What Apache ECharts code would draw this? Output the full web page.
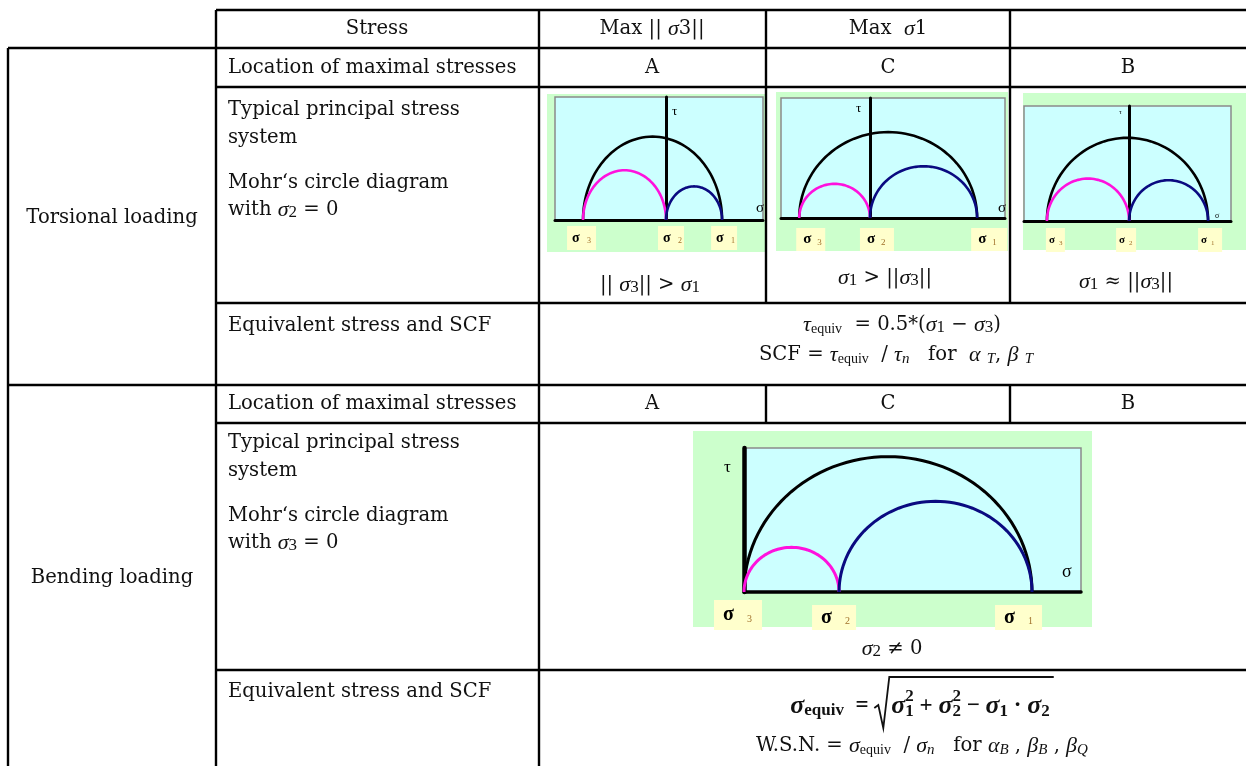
<!DOCTYPE html>
<html><head><meta charset="utf-8">
<script src="https://cdn.jsdelivr.net/npm/echarts@6/dist/echarts.min.js"></script>
<style>html,body{margin:0;padding:0;background:#fff}#c{width:1246px;height:766px}</style>
</head><body><div id="c"></div>
<script>
// ---------------- data ----------------
const loadCases = ['Torsional loading', 'Bending loading'];
const stressColumns = ['Stress', 'Max || σ3||', 'Max  σ1', ''];
const locations = ['A', 'C', 'B'];
const rowLabels = ['Location of maximal stresses', 'Typical principal stress', 'system', 'Mohr‘s circle diagram', 'Equivalent stress and SCF'];
const principalIdx = ['3', '2', '1'];
// principal stresses [σ3, σ2, σ1], scaled so that σ1 = 100
const sigmaTorsionA = [-148, 0, 100];
const sigmaTorsionC = [-66, 0, 100];
const sigmaTorsionB = [-104, 0, 100];
const sigmaBending = [0, 33, 100];
// circle pairs: [from index, to index, colour index]
const circlePairs = [[0, 2, 2], [0, 1, 0], [1, 2, 1]];
const circleColors = ['#ff11dd', '#0a0a80', '#000000'];

// ---------------- layout ----------------
const panels = [
  { sig: sigmaTorsionA, grid: {left: 555, top: 97, width: 208, height: 123}, x: [-198, 173], yMax: 183,
    green: [547, 94, 219, 158], lw: 2.6, axW: 3, axH: 3,
    L: {dx: [-16, -8, -11], w: [29, 26, 26], h: 24, top: 6, gx: 5, gs: 14, dd: 20, ds: 8, ddy: 3},
    tau: [672, 112, 13], sig_: [756, 208, 15] },
  { sig: sigmaTorsionC, grid: {left: 781, top: 98, width: 224, height: 120}, x: [-83, 126], yMax: 116,
    green: [776, 92, 232, 159], lw: 2.6, axW: 3, axH: 3,
    L: {dx: [-3, -10, -6], w: [29, 34, 36], h: 23, top: 10, gx: 7, gs: 15, dd: 21, ds: 9, ddy: 3},
    tau: [856, 109, 13], sig_: [998, 208, 15] },
  { sig: sigmaTorsionB, grid: {left: 1024, top: 106, width: 207, height: 115}, x: [-133, 129], yMax: 141,
    green: [1023, 93, 223, 157], lw: 2.6, axW: 3, axH: 3,
    L: {dx: [-1, -13, -10], w: [19, 20, 24], h: 24, top: 7, gx: 3, gs: 11, dd: 13, ds: 7, ddy: 3},
    tau: [1119, 112, 7], sig_: [1215, 216, 8] },
  { sig: sigmaBending, grid: {left: 744, top: 448, width: 337, height: 144}, x: [0, 117], yMax: 53.2,
    green: [693, 431, 399, 196], lw: 3, axW: 4.5, axH: 3.5,
    L: {dx: [-30, -27, -37], w: [48, 44, 47], h: [30, 25, 25], top: [8, 13, 13], gx: 9, gs: 20, dd: 33, ds: 10, ddy: 4},
    tau: [724, 468, 17], sig_: [1062, 572, 18] }
];

const FONTS = {
  R:  {fontFamily: 'DejaVu Serif', fontSize: 19.6, fontStyle: 'normal', fontWeight: 'normal'},
  M:  {fontFamily: 'Liberation Serif', fontSize: 22, fontStyle: 'italic', fontWeight: 'normal'},
  D:  {fontFamily: 'Liberation Serif', fontSize: 17, fontStyle: 'normal', fontWeight: 'normal'},
  E:  {fontFamily: 'Liberation Serif', fontSize: 14, fontStyle: 'normal', fontWeight: 'normal'},
  I:  {fontFamily: 'Liberation Serif', fontSize: 15, fontStyle: 'italic', fontWeight: 'normal'},
  B:  {fontFamily: 'Liberation Serif', fontSize: 26, fontStyle: 'italic', fontWeight: 'bold'},
  BE: {fontFamily: 'Liberation Serif', fontSize: 17, fontStyle: 'normal', fontWeight: 'bold'},
  BR: {fontFamily: 'Liberation Serif', fontSize: 23, fontStyle: 'normal', fontWeight: 'bold'},
  BD: {fontFamily: 'Liberation Serif', fontSize: 17, fontStyle: 'normal', fontWeight: 'bold'}
};
const TXT = '#111';
const mctx = document.createElement('canvas').getContext('2d');
function cssFont(f) { return f.fontStyle + ' ' + f.fontWeight + ' ' + f.fontSize + 'px "' + f.fontFamily + '"'; }
function measure(t, f) { mctx.font = cssFont(f); return mctx.measureText(t).width; }
function textEl(x, y, t, fk, align, extra) {
  return Object.assign({type: 'text', x: x, y: y, z: 50,
    style: Object.assign({text: t, fill: TXT, align: align || 'left', textAlign: align || 'left',
      verticalAlign: 'middle', textVerticalAlign: 'middle'}, FONTS[fk])}, extra || {});
}
function layoutParts(parts) {
  const pos = []; let cur = 0;
  parts.forEach(p => { pos.push(cur); if (!p.stack) cur += measure(p.t, FONTS[p.f]); });
  return {pos: pos, width: cur};
}
function inline(x, y, parts, align) {
  const L = layoutParts(parts);
  const x0 = align === 'center' ? x - L.width / 2 : x;
  return parts.map((p, i) => textEl(x0 + L.pos[i], y + (p.dy || 0), p.t, p.f, 'left'));
}

const els = [];
// ---------------- table lines ----------------
const hLines = [[10, 216], [48, 8], [87, 216], [303, 216], [385, 8], [423, 216], [670, 216]];
hLines.forEach(h => els.push({type: 'line', z: 40, shape: {x1: h[1], y1: h[0], x2: 1246, y2: h[0]}, style: {stroke: '#000', lineWidth: 2.4}}));
const vLines = [[8, 48, 766], [216, 10, 766], [539, 10, 766], [766, 10, 303], [766, 385, 423], [1010, 10, 303], [1010, 385, 423]];
vLines.forEach(v => els.push({type: 'line', z: 40, shape: {x1: v[0], y1: v[1], x2: v[0], y2: v[2]}, style: {stroke: '#000', lineWidth: 2.4}}));

// ---------------- table text ----------------
els.push(textEl(377, 29, stressColumns[0], 'R', 'center'));
els.push(...inline(652, 29, [{t: 'Max || ', f: 'R'}, {t: 'σ', f: 'M'}, {t: '3||', f: 'R'}], 'center'));
els.push(...inline(888, 29, [{t: 'Max  ', f: 'R'}, {t: 'σ', f: 'M'}, {t: '1', f: 'R'}], 'center'));
const colCenters = [652, 888, 1128];
[68, 404].forEach(y => {
  els.push(textEl(228, y, rowLabels[0], 'R'));
  locations.forEach((l, i) => els.push(textEl(colCenters[i], y, l, 'R', 'center')));
});
els.push(textEl(112, 218, loadCases[0], 'R', 'center'));
els.push(textEl(112, 578, loadCases[1], 'R', 'center'));
[[110, 2], [443, 3]].forEach(([y, k]) => {
  els.push(textEl(228, y, rowLabels[1], 'R'));
  els.push(textEl(228, y + 28, rowLabels[2], 'R'));
  els.push(textEl(228, y + 73, rowLabels[3], 'R'));
  els.push(...inline(228, y + 100, [{t: 'with ', f: 'R'}, {t: 'σ', f: 'M'}, {t: String(k), f: 'D', dy: 3}, {t: ' = 0', f: 'R'}]));
});
els.push(textEl(228, 326, rowLabels[4], 'R'));
els.push(textEl(228, 692, rowLabels[4], 'R'));

// captions
els.push(...inline(650, 285, [{t: '|| ', f: 'R'}, {t: 'σ', f: 'M'}, {t: '3', f: 'D', dy: 3}, {t: '|| > ', f: 'R'}, {t: 'σ', f: 'M'}, {t: '1', f: 'D', dy: 3}], 'center'));
els.push(...inline(885, 278, [{t: 'σ', f: 'M'}, {t: '1', f: 'D', dy: 3}, {t: ' > ||', f: 'R'}, {t: 'σ', f: 'M'}, {t: '3', f: 'D', dy: 3}, {t: '||', f: 'R'}], 'center'));
els.push(...inline(1126, 282, [{t: 'σ', f: 'M'}, {t: '1', f: 'D', dy: 3}, {t: ' ≈ ||', f: 'R'}, {t: 'σ', f: 'M'}, {t: '3', f: 'D', dy: 3}, {t: '||', f: 'R'}], 'center'));
els.push(...inline(892, 649, [{t: 'σ', f: 'M'}, {t: '2', f: 'D', dy: 3}, {t: ' ≠ 0', f: 'R'}], 'center'));

// torsion formulas
els.push(...inline(902, 325, [{t: 'τ', f: 'M'}, {t: 'equiv', f: 'E', dy: 4}, {t: '  = 0.5*(', f: 'R'}, {t: 'σ', f: 'M'}, {t: '1', f: 'D', dy: 3}, {t: ' − ', f: 'R'}, {t: 'σ', f: 'M'}, {t: '3', f: 'D', dy: 3}, {t: ')', f: 'R'}], 'center'));
els.push(...inline(896, 355, [{t: 'SCF = ', f: 'R'}, {t: 'τ', f: 'M'}, {t: 'equiv', f: 'E', dy: 4}, {t: '  / ', f: 'R'}, {t: 'τ', f: 'M'}, {t: 'n', f: 'I', dy: 4}, {t: '   for  ', f: 'R'}, {t: 'α', f: 'M'}, {t: ' ', f: 'R'}, {t: 'T', f: 'I', dy: 4}, {t: ', ', f: 'R'}, {t: 'β', f: 'M'}, {t: ' ', f: 'R'}, {t: 'T', f: 'I', dy: 4}], 'center'));

// bending formula with radical
(function () {
  const y = 706;
  const pre = [{t: 'σ', f: 'B'}, {t: 'equiv', f: 'BE', dy: 5}, {t: '  = ', f: 'BR'}];
  const body = [{t: 'σ', f: 'B'}, {t: '2', f: 'BD', dy: -9, stack: true}, {t: '1', f: 'BD', dy: 6}, {t: ' + ', f: 'BR'},
    {t: 'σ', f: 'B'}, {t: '2', f: 'BD', dy: -9, stack: true}, {t: '2', f: 'BD', dy: 6}, {t: ' − ', f: 'BR'},
    {t: 'σ', f: 'B'}, {t: '1', f: 'BD', dy: 6}, {t: ' · ', f: 'BR'}, {t: 'σ', f: 'B'}, {t: '2', f: 'BD', dy: 6}];
  const A = layoutParts(pre), Bl = layoutParts(body), rw = 17;
  const total = A.width + rw + Bl.width + 4;
  const x0 = 922 - total / 2;
  els.push(...inline(x0, y, pre));
  const rx = x0 + A.width;
  els.push(...inline(rx + rw, y, body));
  els.push({type: 'polyline', z: 50, shape: {points: [[rx, y + 2], [rx + 4, y - 1], [rx + 9, y + 22], [rx + 15, y - 29], [rx + rw + Bl.width + 4, y - 29]]},
    style: {stroke: TXT, lineWidth: 1.8, fill: null}});
})();
els.push(...inline(922, 746, [{t: 'W.S.N. = ', f: 'R'}, {t: 'σ', f: 'M'}, {t: 'equiv', f: 'E', dy: 4}, {t: '  / ', f: 'R'}, {t: 'σ', f: 'M'}, {t: 'n', f: 'I', dy: 4}, {t: '   for ', f: 'R'}, {t: 'α', f: 'M'}, {t: 'B', f: 'I', dy: 4}, {t: ' , ', f: 'R'}, {t: 'β', f: 'M'}, {t: 'B', f: 'I', dy: 4}, {t: ' , ', f: 'R'}, {t: 'β', f: 'M'}, {t: 'Q', f: 'I', dy: 4}], 'center'));

// ---------------- diagrams ----------------
const grids = [], xAxes = [], yAxes = [], series = [];
function val(v, i) { return Array.isArray(v) ? v[i] : v; }
panels.forEach((P, k) => {
  els.push({type: 'rect', z: -5, shape: {x: P.green[0], y: P.green[1], width: P.green[2], height: P.green[3]}, style: {fill: '#ccffcc'}});
  els.push({type: 'text', z: 50, x: P.tau[0], y: P.tau[1], style: {text: 'τ', fill: '#000', fontFamily: 'Liberation Serif', fontSize: P.tau[2], align: 'left', verticalAlign: 'middle', textAlign: 'left', textVerticalAlign: 'middle'}});
  els.push({type: 'text', z: 50, x: P.sig_[0], y: P.sig_[1], style: {text: 'σ', fill: '#000', fontFamily: 'Liberation Serif', fontSize: P.sig_[2], align: 'left', verticalAlign: 'middle', textAlign: 'left', textVerticalAlign: 'middle'}});
  grids.push(Object.assign({show: true, backgroundColor: '#ccffff', borderColor: '#8a8a8a', borderWidth: 1.5, containLabel: false}, P.grid));
  xAxes.push({type: 'value', gridIndex: k, min: P.x[0], max: P.x[1], axisLine: {show: true, lineStyle: {color: '#000', width: P.axH}},
    axisTick: {show: false}, axisLabel: {show: false}, splitLine: {show: false}});
  yAxes.push({type: 'value', gridIndex: k, min: 0, max: P.yMax, axisLine: {show: true, onZero: true, lineStyle: {color: '#000', width: P.axW}},
    axisTick: {show: false}, axisLabel: {show: false}, splitLine: {show: false}});
  const sig = P.sig;
  series.push({
    type: 'custom', xAxisIndex: k, yAxisIndex: k, clip: false, z: 5,
    data: circlePairs.map(c => [sig[c[0]], sig[c[1]], c[2]]),
    renderItem: function (params, api) {
      const a = api.value(0), b = api.value(1), ci = api.value(2);
      const p1 = api.coord([a, 0]), p2 = api.coord([b, 0]);
      const rx = (p2[0] - p1[0]) / 2, cx = (p1[0] + p2[0]) / 2, cy = p1[1];
      const ry = Math.abs(api.size([0, (b - a) / 2])[1]);
      const pts = [];
      for (let i = 0; i <= 64; i++) { const t = Math.PI * i / 64; pts.push([cx - rx * Math.cos(t), cy - ry * Math.sin(t)]); }
      return {type: 'polyline', shape: {points: pts}, style: {stroke: circleColors[ci], lineWidth: P.lw, fill: null}};
    }
  });
  const L = P.L;
  series.push({
    type: 'custom', xAxisIndex: k, yAxisIndex: k, clip: false, z: 6,
    data: sig.map((v, i) => [v, i]),
    renderItem: function (params, api) {
      const v = api.value(0), i = api.value(1);
      const p = api.coord([v, 0]);
      const x0 = p[0] + L.dx[i], y0 = p[1] + val(L.top, i), w = L.w[i], h = val(L.h, i);
      return {type: 'group', children: [
        {type: 'rect', shape: {x: x0, y: y0, width: w, height: h}, style: {fill: '#ffffcc'}},
        {type: 'text', x: x0 + L.gx, y: y0 + h / 2, style: {text: 'σ', fill: '#000', fontFamily: 'Liberation Serif', fontWeight: 'bold', fontSize: L.gs, align: 'left', verticalAlign: 'middle', textAlign: 'left', textVerticalAlign: 'middle'}},
        {type: 'text', x: x0 + L.dd, y: y0 + h / 2 + L.ddy, style: {text: principalIdx[i], fill: '#a0702a', fontFamily: 'Liberation Serif', fontSize: L.ds, align: 'left', verticalAlign: 'middle', textAlign: 'left', textVerticalAlign: 'middle'}}
      ]};
    }
  });
});

const chart = echarts.init(document.getElementById('c'), null, {renderer: 'canvas'});
chart.setOption({
  animation: false,
  backgroundColor: '#ffffff',
  grid: grids, xAxis: xAxes, yAxis: yAxes, series: series,
  graphic: {elements: els}
});
</script></body></html>
